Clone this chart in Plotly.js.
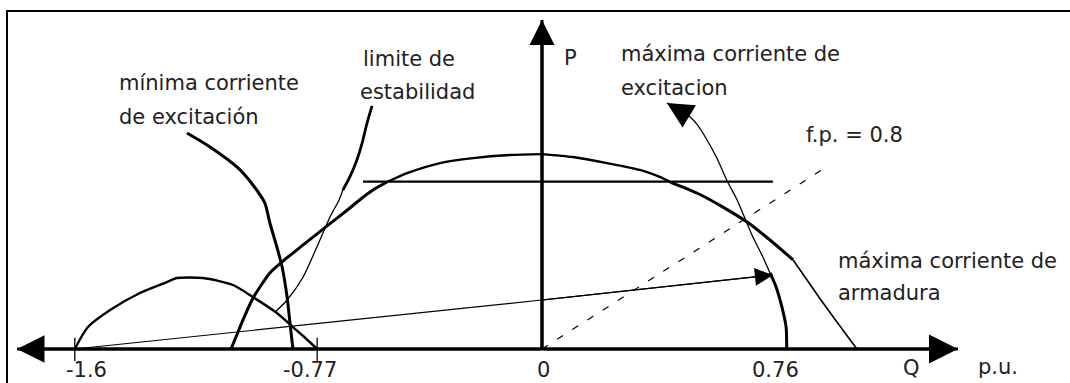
<!DOCTYPE html>
<html>
<head>
<meta charset="utf-8">
<script src="https://cdn.plot.ly/plotly-3.0.1.min.js"></script>
<style>
  html, body { margin: 0; padding: 0; background: #fff; }
  #chart { width: 1070px; height: 383px; }
</style>
</head>
<body>
<div id="chart"></div>
<script>
// Capability chart of a synchronous generator, P against Q in per unit.
// The leading side (Q < 0) and the lagging side (Q > 0) are sketched with
// different Q scales, so each side gets its own x axis (x and x2).

// ---- tick values on the Q axis ----
const tickValues = [-1.6, -0.77, 0, 0.76];
const tickLabels = ['-1.6', '-0.77', '0', '0.76'];

// ---- maximum armature current (the dome) ----
const armLeftQ     = [-1.065, -1.045, -1.024, -0.993, -0.966, -0.932, -0.887, -0.818, -0.736, -0.658, -0.616, -0.579, -0.531];
const armLeftP     = [0, 0.091, 0.188, 0.317, 0.401, 0.492, 0.569, 0.673, 0.796, 0.912, 0.977, 1.028, 1.080];
const armTopLeftQ  = [-0.531, -0.462, -0.349, -0.236, -0.110, 0];
const armTopLeftP  = [1.080, 1.138, 1.203, 1.235, 1.255, 1.261];
const armTopRightQ = [0, 0.096, 0.202, 0.304, 0.366, 0.398];
const armTopRightP = [1.261, 1.242, 1.203, 1.158, 1.113, 1.080];
const armRightQ    = [0.398, 0.481, 0.562, 0.637, 0.708, 0.780];
const armRightP    = [1.080, 1.009, 0.918, 0.821, 0.705, 0.576];
const armTailQ     = [0.780, 0.873, 0.978];
const armTailP     = [0.576, 0.298, 0];

// ---- turbine power limit (horizontal line) ----
const turbineQ = [-0.613, 0.717];
const turbineP = 1.082;

// ---- field current radius, from the circle centre at -1.6 ----
const fieldRadiusQ = [-1.6, 0, 0.717];
const fieldRadiusP = [0, 0.317, 0.479];

// ---- maximum excitation current arc ----
const maxExcLowQ  = [0.76, 0.758, 0.745, 0.727, 0.708];
const maxExcLowP  = [0, 0.142, 0.272, 0.401, 0.492];
const maxExcHighQ = [0.708, 0.686, 0.655, 0.630, 0.606, 0.575, 0.543, 0.509, 0.481, 0.460, 0.388];
const maxExcHighP = [0.492, 0.595, 0.724, 0.847, 0.964, 1.087, 1.235, 1.365, 1.455, 1.501, 1.591];

// ---- minimum excitation current ----
const minExcQ = [-1.216, -1.137, -1.041, -0.990, -0.949, -0.932, -0.908, -0.890, -0.873, -0.863, -0.853];
const minExcP = [1.397, 1.307, 1.171, 1.061, 0.944, 0.815, 0.660, 0.530, 0.336, 0.168, 0];

// ---- small excitation arc between -1.6 and -0.77 ----
const arcQ = [-1.6, -1.555, -1.479, -1.377, -1.284, -1.250, -1.161, -1.058, -0.990, -0.908, -0.853, -0.818, -0.77];
const arcP = [0, 0.142, 0.252, 0.362, 0.433, 0.459, 0.459, 0.414, 0.336, 0.233, 0.142, 0.084, 0];

// ---- practical stability limit ----
const stabLowQ  = [-0.914, -0.873, -0.818, -0.771, -0.726, -0.695, -0.682];
const stabLowP  = [0.239, 0.317, 0.466, 0.660, 0.854, 0.964, 1.028];
const stabHighQ = [-0.682, -0.658, -0.634, -0.616, -0.599, -0.582];
const stabHighP = [1.028, 1.113, 1.223, 1.332, 1.462, 1.572];

// ---- power factor 0.8 line: P = Q * 0.8 / 0.6 ----
const pfQ = [0, 0.888];
const pfP = [0, 1.184];

// ---- axis extents (arrow tips) ----
const qAxisLead = -1.798;
const qAxisLag = 1.292;
const pAxisTop = 2.128;

// ---------------------------------------------------------------
const W = 1070, H = 383;
const ORIGIN_X = 542, ORIGIN_Y = 349;                    // pixel position of Q = 0, P = 0
const LEAD_SCALE = 292, LAG_SCALE = 322, P_SCALE = 154.6; // pixels per p.u.
const INK = '#000';
const FONT = { family: 'DejaVu Sans, Verdana, sans-serif', size: 21, color: '#222' };

function side(q) { return q < 0 ? 'x' : 'x2'; }

const arrows = [];

function curve(q, p, axis, width, opts) {
  opts = opts || {};
  if (opts.arrow) {
    // filled arrow head on the last segment of the curve
    const n = q.length;
    arrows.push({
      xref: axis, yref: 'y', axref: axis, ayref: 'y',
      x: q[n - 1], y: p[n - 1], ax: q[n - 2], ay: p[n - 2],
      text: '', showarrow: true, arrowhead: 2, arrowcolor: INK,
      arrowwidth: width, arrowsize: opts.arrow / width, standoff: 0
    });
  }
  return {
    type: 'scatter', mode: 'lines', x: q, y: p, xaxis: axis, yaxis: 'y',
    line: { color: INK, width: width, shape: opts.shape || 'spline', smoothing: 0.7, dash: opts.dash || 'solid' },
    hoverinfo: 'skip', showlegend: false
  };
}

const traces = [
  // axes with arrow heads
  curve([0, qAxisLead], [0, 0], 'x', 3, { shape: 'linear', arrow: 5.5 }),
  curve([0, qAxisLag], [0, 0], 'x2', 3, { shape: 'linear', arrow: 5.8 }),
  curve([0, 0], [0, pAxisTop], 'x2', 3, { shape: 'linear', arrow: 5 }),

  // maximum armature current
  curve(armLeftQ, armLeftP, 'x', 3),
  curve(armTopLeftQ, armTopLeftP, 'x', 2.3),
  curve(armTopRightQ, armTopRightP, 'x2', 2.3),
  curve(armRightQ, armRightP, 'x2', 3),
  curve(armTailQ, armTailP, 'x2', 1.6),

  // turbine limit
  curve([turbineQ[0], 0], [turbineP, turbineP], 'x', 2.2, { shape: 'linear' }),
  curve([0, turbineQ[1]], [turbineP, turbineP], 'x2', 2.2, { shape: 'linear' }),

  // field current radius
  curve(fieldRadiusQ.slice(0, 2), fieldRadiusP.slice(0, 2), 'x', 1.2, { shape: 'linear' }),
  curve(fieldRadiusQ.slice(1), fieldRadiusP.slice(1), 'x2', 1.2, { shape: 'linear', arrow: 3.6 }),

  // maximum excitation current
  curve(maxExcLowQ, maxExcLowP, 'x2', 3),
  curve(maxExcHighQ, maxExcHighP, 'x2', 1.3, { arrow: 5.2 }),

  // minimum excitation current
  curve(minExcQ, minExcP, 'x', 3),
  curve(arcQ, arcP, 'x', 2.4),

  // stability limit
  curve(stabLowQ, stabLowP, 'x', 1.3),
  curve(stabHighQ, stabHighP, 'x', 2.8),

  // power factor 0.8
  curve(pfQ, pfP, 'x2', 1.2, { shape: 'linear', dash: '7px,11px' })
];

// small tick marks on the leading side of the Q axis
tickValues.filter(v => v < 0).forEach(v => {
  traces.push(curve([v, v], [0.072, -0.078], 'x', 1.3, { shape: 'linear' }));
});

function label(text, left, baseline) {
  return {
    xref: 'paper', yref: 'paper', x: left / W, y: 1 - (baseline - 7) / H,
    xanchor: 'left', yanchor: 'middle', text: text, showarrow: false, font: FONT
  };
}

const tickLabelShift = [12, -7, 1, -11];
const annotations = tickValues.map((v, i) => ({
  xref: side(v), yref: 'paper', x: v, y: 1 - (377 - 7) / H, xshift: tickLabelShift[i],
  xanchor: 'center', yanchor: 'middle', text: tickLabels[i], showarrow: false, font: FONT
})).concat([
  label('mínima corriente', 117, 90),
  label('de excitación', 117, 124),
  label('limite de', 361, 66),
  label('estabilidad', 358, 99),
  label('P', 562, 65),
  label('máxima corriente de', 619, 61),
  label('excitacion', 619, 95),
  label('f.p. = 0.8', 804, 142),
  label('máxima corriente de', 836, 268),
  label('armadura', 836, 300),
  label('Q', 901, 375),
  label('p.u.', 976, 374)
]).concat(arrows);

const layout = {
  width: W, height: H, autosize: false,
  margin: { l: 0, r: 0, t: 0, b: 0, pad: 0 },
  paper_bgcolor: '#fff', plot_bgcolor: '#fff',
  showlegend: false,
  xaxis: { range: [-ORIGIN_X / LEAD_SCALE, (W - ORIGIN_X) / LEAD_SCALE], visible: false, fixedrange: true },
  xaxis2: { range: [-ORIGIN_X / LAG_SCALE, (W - ORIGIN_X) / LAG_SCALE], visible: false, overlaying: 'x', anchor: 'y', fixedrange: true },
  yaxis: { range: [-(H - ORIGIN_Y) / P_SCALE, ORIGIN_Y / P_SCALE], visible: false, fixedrange: true },
  shapes: [{
    type: 'rect', xref: 'paper', yref: 'paper', layer: 'above',
    x0: 7 / W, x1: 1.05, y0: 1 - 11 / H, y1: -0.05,
    line: { color: INK, width: 2 }
  }],
  annotations: annotations
};

Plotly.newPlot('chart', traces, layout, { displayModeBar: false, staticPlot: true });
</script>
</body>
</html>
